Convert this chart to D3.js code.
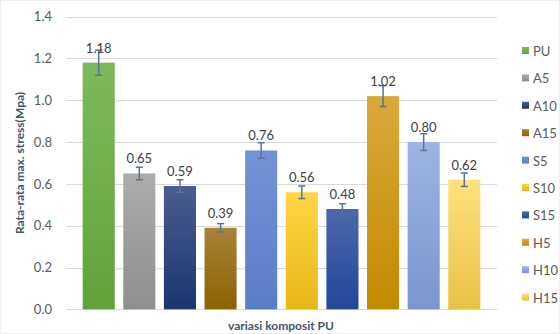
<!DOCTYPE html>
<html lang="en">
<head>
<meta charset="utf-8">
<title>max stress PU</title>
<script src="https://d3js.org/d3.v7.min.js"></script>
<style>
body{margin:0;background:#fff;}
text{font-family:Lato,"Open Sans",sans-serif;}
</style>
</head>
<body>
<script type="text/javascript">
var w = 560;
var h = 334;

// data
var names = ["PU","A5","A10","A15","S5","S10","S15","H5","H10","H15"];
var means = [1.18,0.65,0.59,0.39,0.76,0.56,0.48,1.02,0.80,0.62];
var errs  = [0.06,0.03,0.03,0.02,0.037,0.03,0.025,0.05,0.04,0.032];
var yTicks = [0,0.2,0.4,0.6,0.8,1.0,1.2,1.4];
// top / bottom colour of each bar gradient
var topCol = ["#7db95a","#acacac","#4b5d8e","#a7823a","#7293d4","#ffd548","#4b68aa","#daa93c","#9db4e2","#ffe17e"];
var botCol = ["#62a23a","#8e8e8e","#1b3570","#8c6300","#5b7dc8","#e6b714","#22489a","#c28a00","#7b96cf","#e8c244"];

var svg = d3.select("body").append("svg")
  .attr("width", w).attr("height", h);

var defs = svg.append("defs");
names.forEach(function(n, i){
  var g = defs.append("linearGradient")
    .attr("id", "g" + i)
    .attr("x1", 0).attr("y1", 0).attr("x2", 0).attr("y2", 1);
  g.append("stop").attr("offset", "0%").attr("stop-color", topCol[i]);
  g.append("stop").attr("offset", "100%").attr("stop-color", botCol[i]);
});

var xScale = d3.scaleBand()
  .domain(names)
  .range([66, 497])
  .paddingInner(0.21)
  .paddingOuter(0.41);

var yScale = d3.scaleLinear()
  .domain([0, 1.4])
  .range([309.3, 16.7]);

// gridlines
svg.append("g")
  .selectAll("line")
  .data(yTicks)
  .enter()
  .append("line")
  .attr("x1", 66).attr("x2", 497)
  .attr("y1", function(d){ return Math.round(yScale(d)) + 0.5; })
  .attr("y2", function(d){ return Math.round(yScale(d)) + 0.5; })
  .attr("stroke", "#d9d9d9")
  .attr("stroke-width", 1.2);

// y tick labels
var yAxis = d3.axisLeft(yScale)
  .tickValues(yTicks)
  .tickFormat(d3.format(".1f"))
  .tickSize(0)
  .tickPadding(14);
var ya = svg.append("g").attr("transform", "translate(66,0)").call(yAxis);
ya.select(".domain").remove();
ya.selectAll("text")
  .attr("font-family", "Lato, sans-serif")
  .attr("font-size", "13px")
  .attr("fill", "#595959");

// bars
svg.selectAll("rect.bar")
  .data(means)
  .enter()
  .append("rect")
  .attr("class", "bar")
  .attr("x", function(d, i){ return xScale(names[i]); })
  .attr("y", function(d){ return yScale(d); })
  .attr("width", xScale.bandwidth())
  .attr("height", function(d){ return yScale(0) - yScale(d); })
  .attr("fill", function(d, i){ return "url(#g" + i + ")"; });

// error bars
var eb = svg.append("g")
  .attr("stroke", "#5a7394")
  .attr("stroke-width", 1.5);
means.forEach(function(m, i){
  var cx = xScale(names[i]) + xScale.bandwidth() / 2;
  var y1 = yScale(m + errs[i]);
  var y2 = yScale(m - errs[i]);
  eb.append("line").attr("x1", cx).attr("x2", cx).attr("y1", y1).attr("y2", y2);
  eb.append("line").attr("x1", cx - 3.5).attr("x2", cx + 3.5).attr("y1", y1).attr("y2", y1);
  eb.append("line").attr("x1", cx - 3.5).attr("x2", cx + 3.5).attr("y1", y2).attr("y2", y2);
});

// value labels
svg.selectAll("text.val")
  .data(means)
  .enter()
  .append("text")
  .attr("class", "val")
  .text(function(d){ return d.toFixed(2); })
  .attr("x", function(d, i){ return xScale(names[i]) + xScale.bandwidth() / 2; })
  .attr("y", function(d){ return yScale(d) - 10; })
  .attr("text-anchor", "middle")
  .attr("font-size", "13px")
  .attr("fill", "#404040");

// axis titles
svg.append("text")
  .text("variasi komposit PU")
  .attr("x", 281).attr("y", 330)
  .attr("text-anchor", "middle")
  .attr("font-size", "12px")
  .attr("font-weight", "bold")
  .attr("fill", "#44546a");

svg.append("text")
  .text("Rata-rata max. stress(Mpa)")
  .attr("transform", "translate(24,163) rotate(-90)")
  .attr("text-anchor", "middle")
  .attr("font-size", "12px")
  .attr("font-weight", "bold")
  .attr("fill", "#44546a");

// legend
var leg = svg.append("g");
names.forEach(function(n, i){
  var ly = 51 + i * 27.4;
  leg.append("rect")
    .attr("x", 522).attr("y", ly - 4)
    .attr("width", 7).attr("height", 7)
    .attr("fill", "url(#g" + i + ")");
  leg.append("text")
    .text(n)
    .attr("x", 533).attr("y", ly + 5)
    .attr("font-size", "13px")
    .attr("fill", "#595959");
});

// chart border
svg.append("rect")
  .attr("x", 0.5).attr("y", 0.5)
  .attr("width", w - 1).attr("height", h - 1)
  .attr("fill", "none")
  .attr("stroke", "#efefef");
</script>
</body>
</html>
